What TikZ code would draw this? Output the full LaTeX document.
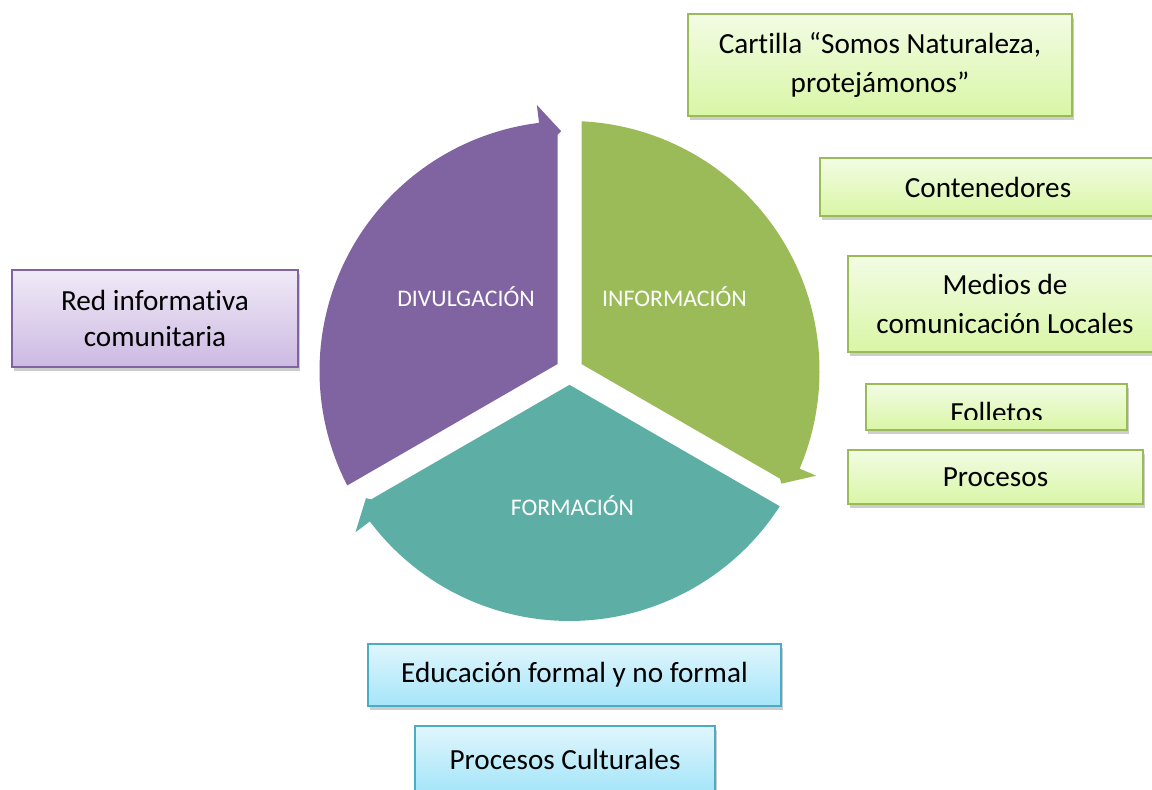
\documentclass[tikz,border=0pt]{standalone}
\usepackage{fontspec}
\setmainfont{Carlito}[RawFeature={-liga;-clig;-calt}]
\usetikzlibrary{shadows}
\definecolor{purp}{RGB}{128,100,162}
\definecolor{grn}{RGB}{155,187,89}
\definecolor{teal2}{RGB}{93,175,166}
\definecolor{gtop}{RGB}{242,252,228}
\definecolor{gbot}{RGB}{217,246,166}
\definecolor{ptop}{RGB}{240,234,247}
\definecolor{pbot}{RGB}{204,186,226}
\definecolor{btop}{RGB}{224,246,253}
\definecolor{bbot}{RGB}{165,229,249}
\definecolor{bbrd}{RGB}{75,172,198}
\begin{document}
\begin{tikzpicture}[x=0.5pt,y=0.5pt,
  box/.style={rectangle, line width=1pt, inner sep=0pt, align=center,
    font=\fontsize{14.6}{19.5}\selectfont,
    drop shadow={shadow xshift=1.2pt, shadow yshift=-2.2pt, opacity=0.28, fill=black!70}},
  gbox/.style={box, draw=grn, top color=gtop, bottom color=gbot},
  pbox/.style={box, draw=purp, top color=ptop, bottom color=pbot},
  bbox/.style={box, draw=bbrd, top color=btop, bottom color=bbot},
  seglabel/.style={text=white, font=\fontsize{11.9}{14}\selectfont}
]
\useasboundingbox (0,0) rectangle (1152,790);
\clip (0,0) rectangle (1152,790);
% cycle segments
\begin{scope}[shift={(569.5,419)}]
  \fill[purp] (-12,6.93) -- (207.25:250) arc[start angle=207.25, end angle=97, radius=250] -- (97:268) -- (92:240) -- (-12,236) -- cycle;
  \begin{scope}[rotate=-120]
  \fill[grn] (-12,6.93) -- (207.25:250) arc[start angle=207.25, end angle=97, radius=250] -- (97:268) -- (92:240) -- (-12,236) -- cycle;
  \end{scope}
  \begin{scope}[rotate=-240]
  \fill[teal2] (-12,6.93) -- (207.25:250) arc[start angle=207.25, end angle=97, radius=250] -- (97:268) -- (92:240) -- (-12,236) -- cycle;
  \end{scope}
\end{scope}
\node[seglabel] (ldiv) at (466,493) {DIVULGACIÓN};
\node[seglabel] (linf) at (674.5,493) {INFORMACIÓN};
\node[seglabel] (lfor) at (572.5,284) {FORMACIÓN};
% boxes
\node[gbox, minimum width=192pt, minimum height=51pt] (cart) at (880,725) {Cartilla “Somos Naturaleza,\\protejámonos”};
\node[gbox, minimum width=168pt, minimum height=29pt] (cont) at (988,603) {Contenedores};
\node[gbox, minimum width=157pt, minimum height=48pt] (med) at (1005,486) {Medios de\\comunicación Locales};
\node[gbox, minimum width=130.5pt, minimum height=23pt] (foll) at (996.5,383) {};
\begin{scope}
  \clip (866,370) rectangle (1127,406);
  \node[anchor=base, font=\fontsize{14.6}{19.5}\selectfont, inner sep=0pt] (follt) at (996.5,367) {Folletos};
\end{scope}
\node[gbox, minimum width=147.5pt, minimum height=27pt] (proc) at (995.5,313) {Procesos};
\node[pbox, minimum width=143pt, minimum height=48.5pt, font=\fontsize{14.6}{18}\selectfont] (red) at (155,471.5) {Red informativa\\comunitaria};
\node[bbox, minimum width=206.5pt, minimum height=31pt] (edu) at (574.5,115) {Educación formal y no formal};
\node[bbox, minimum width=150pt, minimum height=33pt] (pc) at (565,31) {Procesos Culturales};
\end{tikzpicture}
\end{document}
